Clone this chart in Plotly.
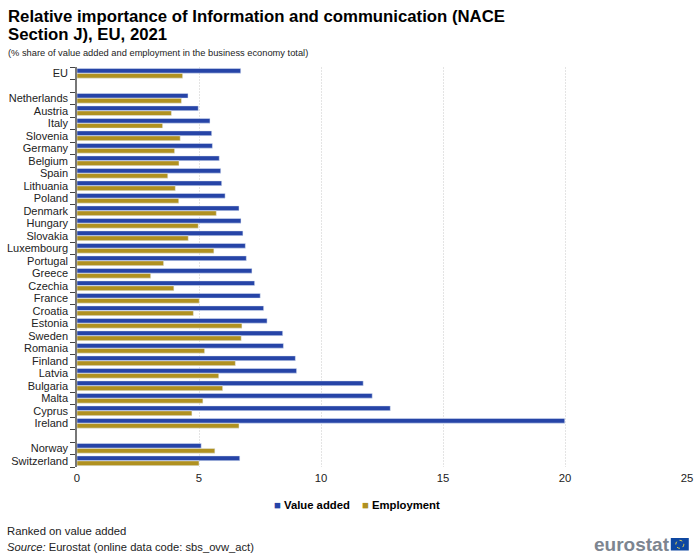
import plotly.graph_objects as go

countries = ["EU", " ", "Netherlands", "Austria", "Italy", "Slovenia", "Germany", "Belgium", "Spain",
             "Lithuania", "Poland", "Denmark", "Hungary", "Slovakia", "Luxembourg", "Portugal", "Greece",
             "Czechia", "France", "Croatia", "Estonia", "Sweden", "Romania", "Finland", "Latvia", "Bulgaria",
             "Malta", "Cyprus", "Ireland", "  ", "Norway", "Switzerland"]
value_added = [6.71, None, 4.55, 4.97, 5.45, 5.52, 5.55, 5.83, 5.89, 5.93, 6.07, 6.64, 6.72, 6.80, 6.90, 6.94,
               7.17, 7.28, 7.51, 7.65, 7.79, 8.43, 8.46, 8.95, 9.00, 11.73, 12.10, 12.84, 19.99, None, 5.09, 6.67]
employment = [4.33, None, 4.28, 3.87, 3.51, 4.23, 4.00, 4.18, 3.72, 4.03, 4.17, 5.71, 4.97, 4.56, 5.61, 3.55,
              3.02, 3.97, 5.01, 4.77, 6.76, 6.73, 5.23, 6.49, 5.81, 5.97, 5.16, 4.71, 6.64, None, 5.65, 5.00]

FONT = "Liberation Sans, Arial, sans-serif"
BLUE = "#2644A7"
GOLD = "#B09120"

fig = go.Figure()
fig.add_bar(y=countries, x=value_added, name="Value added", orientation="h", marker_color=BLUE)
fig.add_bar(y=countries, x=employment, name="Employment", orientation="h", marker_color=GOLD)

fig.update_layout(
    width=700, height=557,
    margin=dict(l=76.7, r=13.3, t=67, b=90),
    paper_bgcolor="white", plot_bgcolor="white",
    font=dict(family=FONT, size=11, color="#222222"),
    barmode="group", bargap=0.2, bargroupgap=0.05,
    showlegend=False,
    xaxis=dict(range=[0, 25], tickvals=[0, 5, 10, 15, 20, 25], showgrid=True, gridcolor="#E4E4E4",
               griddash="2px,1px", gridwidth=1, zeroline=False, showline=False, ticks="", automargin=False,
               ticklabelstandoff=3, tickfont=dict(family=FONT, size=11.3, color="#222222")),
    yaxis=dict(categoryorder="array", categoryarray=countries, autorange="reversed", tickmode="array",
               tickvals=countries, ticktext=countries, tickson="boundaries", ticks="outside", ticklen=5,
               tickcolor="#444444", showline=True, linecolor="#777777", linewidth=1.5, showgrid=False,
               automargin=False, tickfont=dict(family=FONT, size=11, color="#222222"), ticklabelstandoff=5),
)

def note(x, y, text, size, **kw):
    fig.add_annotation(xref="paper", yref="paper", x=x, y=y, text=text, showarrow=False,
                       xanchor=kw.pop("xanchor", "left"), yanchor="middle", align="left",
                       font=dict(family=FONT, size=size, color=kw.pop("color", "black"), **kw))

W, H, L, T = 610.0, 400.0, 76.7, 67.0
px = lambda v: (v - L) / W
py = lambda v: 1 - (v - T) / H

note(px(6), py(16), "<b>Relative importance of Information and communication (NACE</b>", 16.75)
note(px(6), py(35), "<b>Section J), EU, 2021</b>", 16.75)
note(px(6), py(52.5), "(% share of value added and employment in the business economy total)", 9.3, color="#222222")
note(px(5), py(531), "Ranked on value added", 11.3, color="#222222")
note(px(5), py(547), "<i>Source:</i> Eurostat (online data code: sbs_ovw_act)", 11.2, color="#222222")
note(px(672), py(544), "<b>eurostat</b>", 19, xanchor="right", color="#7D8590")
note(px(272), py(505), f"<span style='color:{BLUE}'>■</span> <b>Value added</b>", 11.3)
note(px(360), py(505), f"<span style='color:{GOLD}'>■</span> <b>Employment</b>", 11.3)

fig.add_shape(type="rect", xref="paper", yref="paper", x0=px(670.5), x1=px(688.5), y0=py(538), y1=py(550.5),
              fillcolor="#0E47A1", line_width=0)
fig.add_shape(type="circle", xref="paper", yref="paper", x0=px(675.5), x1=px(683.5), y0=py(540.3), y1=py(548.3),
              line=dict(color="#E8D44D", width=1, dash="dot"))

fig.write_html("out.html", config={"displayModeBar": False},
               post_script="document.body.style.margin='0';document.documentElement.style.overflow='hidden';")
